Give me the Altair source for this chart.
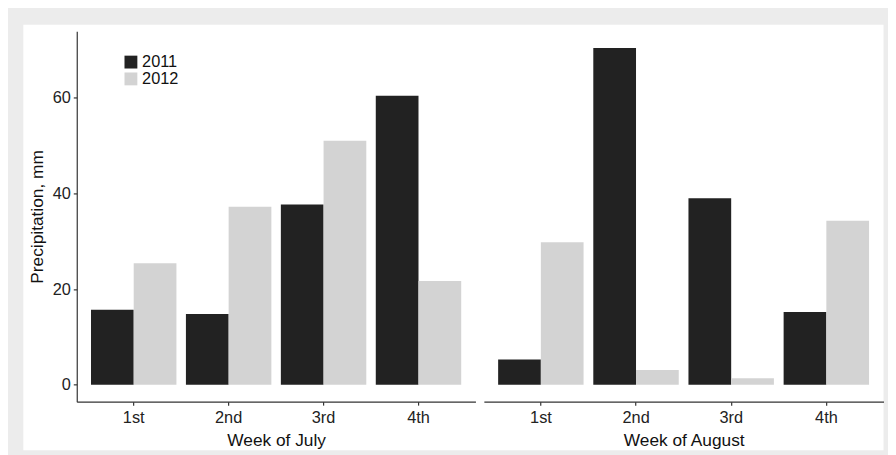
import altair as alt
import pandas as pd

weeks = ["1st", "2nd", "3rd", "4th"]
years = ["2011", "2012"]
july_2011 = [15.7, 14.8, 37.7, 60.4]
july_2012 = [25.4, 37.2, 51.0, 21.7]
aug_2011 = [5.3, 70.4, 39.0, 15.2]
aug_2012 = [29.8, 3.1, 1.4, 34.3]
y_ticks = [0, 20, 40, 60]
bar_colors = ["#222222", "#d3d3d3"]

def frame(v2011, v2012):
    rows = []
    for w, a, b in zip(weeks, v2011, v2012):
        rows.append({"week": w, "year": "2011", "value": a})
        rows.append({"week": w, "year": "2012", "value": b})
    return pd.DataFrame(rows)

july = frame(july_2011, july_2012)
aug = frame(aug_2011, aug_2012)

FONT = "Liberation Sans"
ydom = [-3.52, 73.92]
W, H = 403, 374.5

color = alt.Color("year:N", scale=alt.Scale(domain=years, range=bar_colors),
                  legend=alt.Legend(orient="none", legendX=46.5, legendY=23, title=None,
                                    symbolType="square", symbolSize=169, symbolStrokeWidth=0,
                                    labelFontSize=16.5, labelFont=FONT, labelColor="#111111",
                                    labelOffset=3, rowPadding=-3.5, padding=0))

def bars(df, title, show_y):
    yaxis = alt.Axis(values=y_ticks, title="Precipitation, mm", grid=False, zindex=1,
                     tickSize=3.5, labelPadding=3, titlePadding=6) if show_y else None
    return alt.Chart(df).mark_bar(stroke=None).encode(
        x=alt.X("week:N", sort=weeks, title=title,
                scale=alt.Scale(paddingInner=0.1, paddingOuter=0.15),
                axis=alt.Axis(labelAngle=0, tickSize=3.5, labelPadding=5, titlePadding=5, zindex=1)),
        xOffset=alt.XOffset("year:N", sort=years, scale=alt.Scale(paddingInner=0, paddingOuter=0)),
        y=alt.Y("value:Q", scale=alt.Scale(domain=ydom, nice=False, zero=False), axis=yaxis),
        color=color,
    )

bg = alt.Chart(pd.DataFrame({"z": [0]})).mark_rect(color="white").encode(
    x=alt.value(-54), x2=alt.value(815.5), y=alt.value(-6.5), y2=alt.value(423.5))

left = alt.layer(bg, bars(july, "Week of July", True)).properties(width=W, height=H)
right = bars(aug, "Week of August", False).properties(width=404, height=H)

chart = alt.hconcat(left, right, spacing=8.5, bounds="flush").properties(
    background="#ececec",
    padding={"left": 15.5, "top": 14, "right": 4, "bottom": 4},
).configure_view(strokeWidth=0).configure_axis(
    domainColor="#333333", domainWidth=1.2, tickColor="#333333", tickWidth=1.2,
    labelFont=FONT, labelFontSize=16.5, labelColor="#222222",
    titleFont=FONT, titleFontSize=17.5, titleFontWeight="normal", titleColor="#111111",
)

chart.save("out.html", embed_options={"renderer": "svg", "actions": False})
